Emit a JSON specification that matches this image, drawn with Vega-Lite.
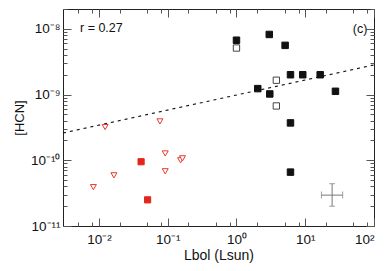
{
  "$schema": "https://vega.github.io/schema/vega-lite/v6.json",
  "width": 311,
  "height": 217,
  "autosize": {"type": "none"},
  "padding": {"left": 63, "top": 9, "right": 14, "bottom": 45},
  "config": {
    "view": {"stroke": "#222", "strokeWidth": 1},
    "font": "Liberation Sans",
    "axis": {"grid": false, "domain": false, "tickColor": "#555", "tickWidth": 1, "labelColor": "#111", "titleColor": "#111", "titleFontWeight": "normal", "labelFontSize": 13.5, "titleFontSize": 13}
  },
  "datasets": {
    "pts": [
      {"L": 1.0, "N": 6.7e-9, "kind": "filled"},
      {"L": 3.0, "N": 8.2e-9, "kind": "filled"},
      {"L": 5.1, "N": 5.6e-9, "kind": "filled"},
      {"L": 6.1, "N": 2.0e-9, "kind": "filled"},
      {"L": 9.2, "N": 2.0e-9, "kind": "filled"},
      {"L": 16.5, "N": 2.0e-9, "kind": "filled"},
      {"L": 2.04, "N": 1.23e-9, "kind": "filled"},
      {"L": 3.05, "N": 1.02e-9, "kind": "filled"},
      {"L": 27.5, "N": 1.12e-9, "kind": "filled"},
      {"L": 6.1, "N": 3.7e-10, "kind": "filled"},
      {"L": 6.1, "N": 6.6e-11, "kind": "filled"},
      {"L": 1.0, "N": 5.1e-9, "kind": "open"},
      {"L": 3.8, "N": 1.65e-9, "kind": "open"},
      {"L": 3.8, "N": 6.7e-10, "kind": "open"},
      {"L": 0.041, "N": 9.5e-11, "kind": "red_filled"},
      {"L": 0.051, "N": 2.5e-11, "kind": "red_filled"},
      {"L": 0.0083, "N": 3.9e-11, "kind": "red_tri"},
      {"L": 0.0165, "N": 5.9e-11, "kind": "red_tri"},
      {"L": 0.092, "N": 1.27e-10, "kind": "red_tri"},
      {"L": 0.092, "N": 6.8e-11, "kind": "red_tri"},
      {"L": 0.154, "N": 1.0e-10, "kind": "red_tri"},
      {"L": 0.164, "N": 1.07e-10, "kind": "red_tri"},
      {"L": 0.0123, "N": 3.2e-10, "kind": "red_tri"},
      {"L": 0.077, "N": 3.9e-10, "kind": "red_tri"}
    ],
    "fit": [
      {"L": 0.003, "N": 2.6e-10},
      {"L": 100, "N": 2.82e-9}
    ],
    "err": [
      {"L": 24.6, "Llo": 17.2, "Lhi": 35, "N": 2.95e-11, "Nlo": 2.0e-11, "Nhi": 4.4e-11}
    ]
  },
  "resolve": {"axis": {"x": "independent", "y": "independent"}},
  "layer": [
    {
      "data": {"name": "fit"},
      "mark": {"type": "line", "color": "#111", "strokeDash": [3, 4], "strokeWidth": 1.1},
      "encoding": {
        "x": {"field": "L", "type": "quantitative", "scale": {"type": "log", "domain": [0.003, 100], "nice": false},
          "axis": {"orient": "top", "labels": false, "title": null,
            "values": [0.005, 0.008, 0.01, 0.02, 0.05, 0.08, 0.1, 0.2, 0.5, 0.8, 1, 2, 5, 8, 10, 20, 50, 80, 100],
            "tickSize": {"condition": {"test": "indexof([0.01,0.1,1,10,100], datum.value) >= 0", "value": -8}, "value": -4}}},
        "y": {"field": "N", "type": "quantitative", "scale": {"type": "log", "domain": [1e-11, 2e-8], "nice": false},
          "axis": {"orient": "right", "labels": false, "title": null,
            "values": [1e-11, 2e-11, 3e-11, 4e-11, 5e-11, 6e-11, 7e-11, 8e-11, 9e-11, 1e-10, 2e-10, 3e-10, 4e-10, 5e-10, 6e-10, 7e-10, 8e-10, 9e-10, 1e-9, 2e-9, 3e-9, 4e-9, 5e-9, 6e-9, 7e-9, 8e-9, 9e-9, 1e-8, 2e-8],
            "tickSize": {"condition": {"test": "indexof([1e-11,1e-10,1e-9,1e-8], datum.value) >= 0", "value": -8}, "value": -4}}}
      }
    },
    {
      "data": {"name": "err"},
      "mark": {"type": "rule", "color": "#777", "strokeWidth": 1},
      "encoding": {
        "x": {"field": "Llo", "type": "quantitative", "scale": {"type": "log", "domain": [0.003, 100], "nice": false}, "axis": null},
        "x2": {"field": "Lhi"},
        "y": {"field": "N", "type": "quantitative", "scale": {"type": "log", "domain": [1e-11, 2e-8], "nice": false}, "axis": null}
      }
    },
    {
      "data": {"name": "err"},
      "mark": {"type": "rule", "color": "#777", "strokeWidth": 1},
      "encoding": {
        "x": {"field": "L", "type": "quantitative", "scale": {"type": "log", "domain": [0.003, 100], "nice": false}, "axis": null},
        "y": {"field": "Nlo", "type": "quantitative", "scale": {"type": "log", "domain": [1e-11, 2e-8], "nice": false}, "axis": null},
        "y2": {"field": "Nhi"}
      }
    },
    {
      "data": {"name": "err"},
      "transform": [{"fold": ["Llo", "Lhi"], "as": ["end", "Lend"]}],
      "mark": {"type": "tick", "orient": "vertical", "color": "#777", "size": 7, "thickness": 1},
      "encoding": {
        "x": {"field": "Lend", "type": "quantitative", "scale": {"type": "log", "domain": [0.003, 100], "nice": false}, "axis": null},
        "y": {"field": "N", "type": "quantitative", "scale": {"type": "log", "domain": [1e-11, 2e-8], "nice": false}, "axis": null}
      }
    },
    {
      "data": {"name": "err"},
      "transform": [{"fold": ["Nlo", "Nhi"], "as": ["end", "Nend"]}],
      "mark": {"type": "tick", "orient": "horizontal", "color": "#777", "size": 6, "thickness": 1},
      "encoding": {
        "x": {"field": "L", "type": "quantitative", "scale": {"type": "log", "domain": [0.003, 100], "nice": false}, "axis": null},
        "y": {"field": "Nend", "type": "quantitative", "scale": {"type": "log", "domain": [1e-11, 2e-8], "nice": false}, "axis": null}
      }
    },
    {
      "data": {"name": "pts"},
      "mark": {"type": "point", "filled": true, "opacity": 1, "strokeWidth": 1},
      "encoding": {
        "x": {"field": "L", "type": "quantitative", "scale": {"type": "log", "domain": [0.003, 100], "nice": false},
          "axis": {"orient": "bottom", "title": "Lbol (Lsun)", "titleFontSize": 14, "titlePadding": 3,
            "values": [0.005, 0.008, 0.01, 0.02, 0.05, 0.08, 0.1, 0.2, 0.5, 0.8, 1, 2, 5, 8, 10, 20, 50, 80, 100],
            "labelExpr": "datum.value==0.01?'10⁻²':datum.value==0.1?'10⁻¹':datum.value==1?'10⁰':datum.value==10?'10¹':datum.value==100?'10²':''",
            "labelPadding": 14,
            "tickSize": {"condition": {"test": "indexof([0.01,0.1,1,10,100], datum.value) >= 0", "value": -8}, "value": -4}}},
        "y": {"field": "N", "type": "quantitative", "scale": {"type": "log", "domain": [1e-11, 2e-8], "nice": false},
          "axis": {"orient": "left", "title": "[HCN]", "titlePadding": 4,
            "values": [1e-11, 2e-11, 3e-11, 4e-11, 5e-11, 6e-11, 7e-11, 8e-11, 9e-11, 1e-10, 2e-10, 3e-10, 4e-10, 5e-10, 6e-10, 7e-10, 8e-10, 9e-10, 1e-9, 2e-9, 3e-9, 4e-9, 5e-9, 6e-9, 7e-9, 8e-9, 9e-9, 1e-8, 2e-8],
            "labelExpr": "datum.value==1e-8?'10⁻⁸':datum.value==1e-9?'10⁻⁹':datum.value==1e-10?'10⁻¹⁰':datum.value==1e-11?'10⁻¹¹':''",
            "labelPadding": 11,
            "tickSize": {"condition": {"test": "indexof([1e-11,1e-10,1e-9,1e-8], datum.value) >= 0", "value": -8}, "value": -4}}},
        "shape": {"field": "kind", "type": "nominal", "legend": null,
          "scale": {"domain": ["filled", "open", "red_filled", "red_tri"], "range": ["square", "square", "square", "triangle-down"]}},
        "fill": {"field": "kind", "type": "nominal", "legend": null,
          "scale": {"domain": ["filled", "open", "red_filled", "red_tri"], "range": ["#111111", "#ffffff", "#e3261c", "#ffffff"]}},
        "stroke": {"field": "kind", "type": "nominal", "legend": null,
          "scale": {"domain": ["filled", "open", "red_filled", "red_tri"], "range": ["#111111", "#444444", "#e3261c", "#e8392f"]}},
        "size": {"field": "kind", "type": "ordinal", "legend": null,
          "scale": {"domain": ["filled", "open", "red_filled", "red_tri"], "range": [42, 36, 36, 85]}}
      }
    },
    {
      "data": {"values": [{"label": "r = 0.27"}]},
      "mark": {"type": "text", "align": "left", "baseline": "middle", "fontSize": 12.5, "color": "#111"},
      "encoding": {
        "x": {"datum": 0.0053, "type": "quantitative", "scale": {"type": "log", "domain": [0.003, 100], "nice": false}, "axis": null},
        "y": {"datum": 1.03e-8, "type": "quantitative", "scale": {"type": "log", "domain": [1e-11, 2e-8], "nice": false}, "axis": null},
        "text": {"field": "label"}
      }
    },
    {
      "data": {"values": [{"label": "(c)"}]},
      "mark": {"type": "text", "align": "right", "baseline": "middle", "fontSize": 12.5, "color": "#111"},
      "encoding": {
        "x": {"datum": 80, "type": "quantitative", "scale": {"type": "log", "domain": [0.003, 100], "nice": false}, "axis": null},
        "y": {"datum": 1.0e-8, "type": "quantitative", "scale": {"type": "log", "domain": [1e-11, 2e-8], "nice": false}, "axis": null},
        "text": {"field": "label"}
      }
    }
  ]
}
